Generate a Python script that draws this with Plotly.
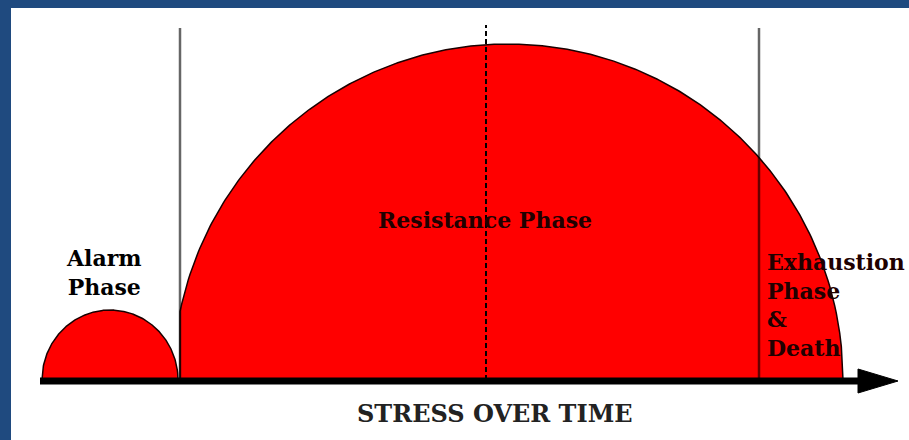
import numpy as np
import plotly.graph_objects as go

# ---- data (time units along the axis, stress level above the baseline) ----
phase_labels = ["Alarm<br>Phase", "Resistance Phase", "Exhaustion<br>Phase<br>&amp;<br>Death"]
axis_title = "STRESS OVER TIME"

# response curves: centre time, half duration, peak stress level, clip start
curve_center = [70, 468]
curve_halfspan = [68, 335]
curve_peak = [70, 336]
curve_clip_start = [0, 140]

# phase boundaries (solid) and peak marker (dashed)
boundary_times = [140, 719]
peak_time = 446
axis_end = 858

FONT = "DejaVu Serif"

fig = go.Figure()

for c, hs, pk, clip in zip(curve_center, curve_halfspan, curve_peak, curve_clip_start):
    t0 = max(c - hs, clip)
    t = np.linspace(t0, c + hs, 400)
    u = np.clip((t - c) / hs, -1, 1)
    y = pk * np.sqrt(1 - u ** 2)
    xs = np.concatenate([[t0], t, [c + hs]])
    ys = np.concatenate([[0], y, [0]])
    fig.add_trace(go.Scatter(
        x=xs, y=ys, mode="lines", fill="toself",
        fillcolor="#ff0000", line=dict(color="#1a0000", width=1.5),
        hoverinfo="skip", showlegend=False))

shapes = []
line_top = 352
for bt in boundary_times:
    shapes.append(dict(type="line", xref="x", yref="y", x0=bt, x1=bt, y0=0, y1=line_top,
                       line=dict(color="rgba(0,0,0,0.6)", width=2.5), layer="above"))
shapes.append(dict(type="line", xref="x", yref="y", x0=peak_time, x1=peak_time, y0=0, y1=line_top + 3,
                   line=dict(color="#000", width=2, dash="5px,3px"), layer="above"))
# time axis with arrow head
shapes.append(dict(type="line", xref="x", yref="y", x0=0, x1=axis_end - 36, y0=-1, y1=-1,
                   line=dict(color="#000", width=7), layer="above"))
shapes.append(dict(type="path", xref="x", yref="y",
                   path=f"M {axis_end-40},11 L {axis_end},-1 L {axis_end-40},-13 Z",
                   fillcolor="#000", line=dict(color="#000", width=1), layer="above"))

annotations = [
    dict(x=64, y=108, text="<b>" + phase_labels[0] + "</b>", showarrow=False,
         xanchor="center", yanchor="middle", align="center",
         font=dict(family=FONT, size=22, color="#000"), xref="x", yref="y"),
    dict(x=445, y=160, text="<b>" + phase_labels[1] + "</b>", showarrow=False,
         xanchor="center", yanchor="middle",
         font=dict(family=FONT, size=22, color="#200000"), xref="x", yref="y"),
    dict(x=725, y=75, text="<b>" + phase_labels[2] + "</b>", showarrow=False,
         xanchor="left", yanchor="middle", align="left",
         font=dict(family=FONT, size=22, color="#200000"), xref="x", yref="y"),
    dict(x=455, y=-33, text="<b>" + axis_title + "</b>", showarrow=False,
         xanchor="center", yanchor="middle",
         font=dict(family=FONT, size=24, color="#222"), xref="x", yref="y"),
]

fig.update_layout(
    width=909, height=440,
    margin=dict(l=11, r=0, t=8, b=0),
    paper_bgcolor="#1f4a7f", plot_bgcolor="#ffffff",
    xaxis=dict(range=[-29, 869], visible=False, fixedrange=True),
    yaxis=dict(range=[-60, 372], visible=False, fixedrange=True),
    shapes=shapes, annotations=annotations, showlegend=False,
)

fig.write_html("out.html", config=dict(displayModeBar=False),
               post_script="document.body.style.margin='0';document.body.style.overflow='hidden';")
